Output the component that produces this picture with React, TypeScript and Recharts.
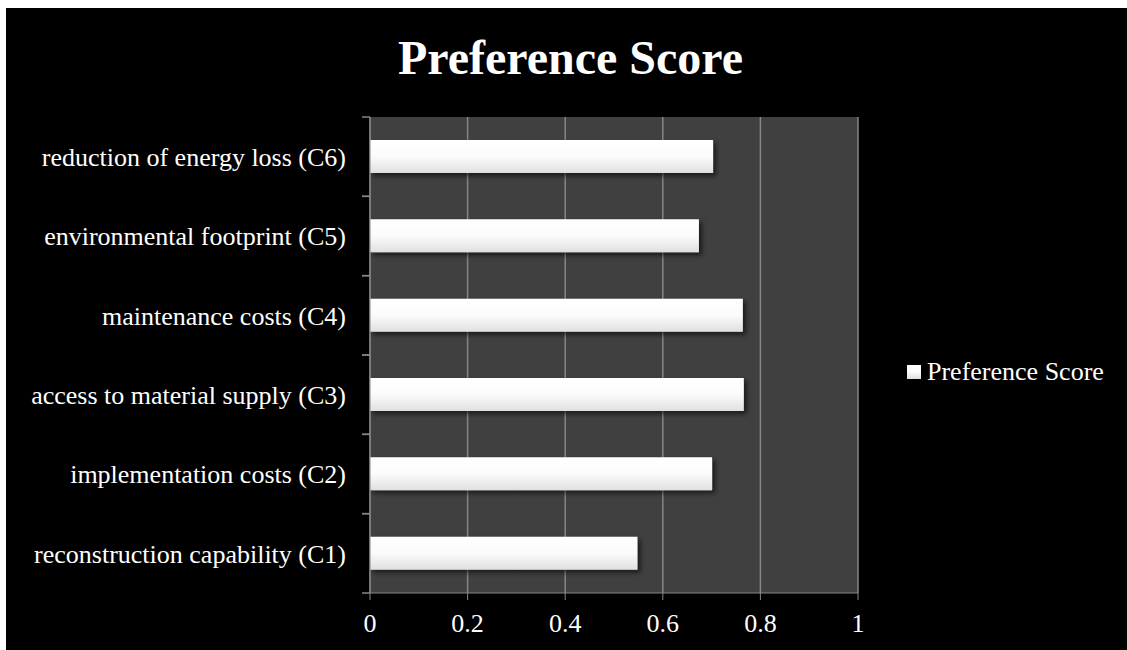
import { BarChart, Bar, XAxis, YAxis, CartesianGrid } from 'recharts';

const categories = [
  'reconstruction capability (C1)',
  'implementation costs (C2)',
  'access to material supply (C3)',
  'maintenance costs (C4)',
  'environmental footprint (C5)',
  'reduction of energy loss (C6)',
];
const scores = [0.548, 0.701, 0.766, 0.764, 0.674, 0.703];
const xTicks = [0, 0.2, 0.4, 0.6, 0.8, 1];

const data = categories.map((name, i) => ({ name, score: scores[i] }));

const FONT = '"Liberation Serif", "Times New Roman", serif';
const AXIS = '#868686';

const W = 1121;
const H = 642;
const margin = { top: 109, right: 269, bottom: 27, left: 0 };
const Y_AXIS_W = 364;
const X_AXIS_H = 30;
const band = (H - margin.top - margin.bottom - X_AXIS_H) / categories.length;

// category label plus Excel-style tick marks on the band edges
function CategoryTick(props: any) {
  const { x, y, payload } = props;
  const ax = margin.left + Y_AXIS_W;
  return (
    <g>
      <line x1={ax - 8} x2={ax} y1={y - band / 2} y2={y - band / 2} stroke={AXIS} strokeWidth={1.5} />
      <line x1={ax - 8} x2={ax} y1={y + band / 2} y2={y + band / 2} stroke={AXIS} strokeWidth={1.5} />
      <text x={x} y={y} dy="0.355em" textAnchor="end" fill="#fff" fontSize={26} fontFamily={FONT}>
        {payload.value}
      </text>
    </g>
  );
}

export default function App() {
  return (
    <div
      style={{
        position: 'fixed',
        left: 6,
        top: 8,
        width: W,
        height: H,
        background: '#000',
        fontFamily: FONT,
      }}
    >
      <div
        style={{
          position: 'absolute',
          left: 0,
          top: 20,
          width: 1129,
          textAlign: 'center',
          color: '#fff',
          fontWeight: 'bold',
          fontSize: 48,
          lineHeight: '60px',
        }}
      >
        Preference Score
      </div>
      <BarChart width={W} height={H} data={data} layout="vertical" margin={margin}>
        <defs>
          <linearGradient id="barFill" x1="0" y1="0" x2="0" y2="1">
            <stop offset="0%" stopColor="#ffffff" />
            <stop offset="50%" stopColor="#fbfbfb" />
            <stop offset="100%" stopColor="#e0e0e0" />
          </linearGradient>
          <filter id="barShadow" x="-5%" y="-30%" width="115%" height="180%">
            <feDropShadow dx="3" dy="3" stdDeviation="2.5" floodColor="#000" floodOpacity="0.6" />
          </filter>
        </defs>
        <CartesianGrid fill="#404040" stroke={AXIS} strokeWidth={1.5} horizontal={false} />
        <XAxis
          type="number"
          domain={[0, 1]}
          ticks={xTicks}
          height={X_AXIS_H}
          tickSize={7}
          tickMargin={14}
          stroke={AXIS}
          tick={{ fill: '#fff', fontSize: 26, fontFamily: FONT }}
        />
        <YAxis
          type="category"
          dataKey="name"
          reversed
          width={Y_AXIS_W}
          tickLine={false}
          tickMargin={18}
          stroke={AXIS}
          tick={<CategoryTick />}
        />
        <Bar
          dataKey="score"
          barSize={33}
          fill="url(#barFill)"
          filter="url(#barShadow)"
          isAnimationActive={false}
        />
      </BarChart>
      <div
        style={{
          position: 'absolute',
          left: 901,
          top: 349,
          height: 30,
          display: 'flex',
          alignItems: 'center',
          color: '#fff',
          fontSize: 26,
        }}
      >
        <span
          style={{
            display: 'inline-block',
            width: 14,
            height: 14,
            marginRight: 6,
            background: 'linear-gradient(#ffffff, #fbfbfb 50%, #e0e0e0)',
          }}
        />
        Preference Score
      </div>
    </div>
  );
}
